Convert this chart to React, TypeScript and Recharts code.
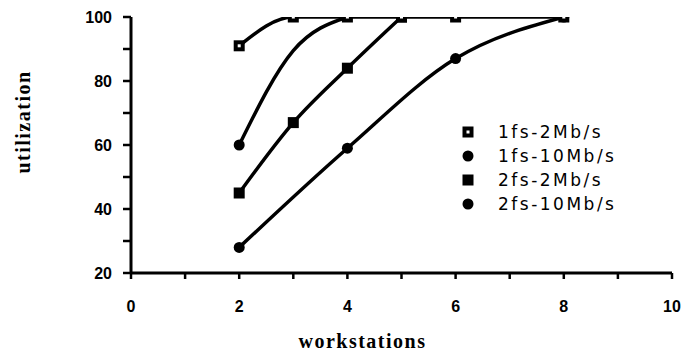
import { LineChart, Line, XAxis, YAxis, Legend, Label } from 'recharts'

// workstation counts on the x axis, utilization (%) on the y axis
const xTicks = [0, 1, 2, 3, 4, 5, 6, 7, 8, 9, 10]
const yTicks = [20, 30, 40, 50, 60, 70, 80, 90, 100]

const fs1Mb2X = [2, 3, 4, 5, 6, 8]
const fs1Mb2Y = [91, 100, 100, 100, 100, 100]
const fs1Mb10X = [2, 3, 4]
const fs1Mb10Y = [60, 89.5, 100]
const fs1Mb10Marks = [2]
const fs2Mb2X = [2, 3, 4, 5]
const fs2Mb2Y = [45, 67, 84, 100]
const fs2Mb10X = [2, 4, 6, 8]
const fs2Mb10Y = [28, 59, 87, 100]

const seriesNames = ['1fs-2Mb/s', '1fs-10Mb/s', '2fs-2Mb/s', '2fs-10Mb/s']

type Shape = 'sqDot' | 'circle' | 'square'
const legendShapes: Shape[] = ['sqDot', 'circle', 'square', 'circle']

const toPoints = (xs: number[], ys: number[]) => xs.map((x, i) => ({ x, y: ys[i] }))

function marker(shape: Shape, cx: number, cy: number, key?: string) {
  if (shape === 'circle') return <circle key={key} cx={cx} cy={cy} r={5.5} fill="#000" />
  if (shape === 'square') return <rect key={key} x={cx - 5.5} y={cy - 5.5} width={11} height={11} fill="#000" />
  return (
    <g key={key}>
      <rect x={cx - 5.5} y={cy - 5.5} width={11} height={11} fill="#000" />
      <rect x={cx - 1.5} y={cy - 1.5} width={3} height={3} fill="#fff" />
    </g>
  )
}

const makeDot = (shape: Shape, marks?: number[]) => (p: any) => {
  const key = `dot-${shape}-${p.index}`
  if (marks && !marks.includes(p.payload.x)) return <g key={key} />
  return marker(shape, p.cx, p.cy, key)
}

const tickStyle = { fontSize: 16, fontWeight: 700, fill: '#000', fontFamily: 'Liberation Sans, Arial, sans-serif' }
const labelFont = { fontSize: 20, fontWeight: 700, fontFamily: 'Liberation Serif, Times New Roman, serif', letterSpacing: 1.5 }

function LegendBox() {
  return (
    <div style={{ fontFamily: 'DejaVu Sans, sans-serif', fontSize: 17, letterSpacing: 2.5, color: '#000' }}>
      {seriesNames.map((name, i) => (
        <div key={name} style={{ display: 'flex', alignItems: 'center', height: 24, lineHeight: '24px' }}>
          <svg width={12} height={12} style={{ marginRight: 24 }}>
            {marker(legendShapes[i], 6, 6)}
          </svg>
          <span>{name}</span>
        </div>
      ))}
    </div>
  )
}

export default function App() {
  return (
    <div style={{ position: 'absolute', left: 0, top: 0, background: '#fff' }}>
      <LineChart width={683} height={356} margin={{ top: 17, right: 11, left: 71, bottom: 0 }}>
        <XAxis
          type="number"
          dataKey="x"
          domain={[0, 10]}
          ticks={xTicks}
          interval={0}
          height={83}
          tickSize={6}
          tickMargin={22}
          tick={tickStyle}
          tickFormatter={(v) => (v % 2 === 0 ? String(v) : '')}
          axisLine={{ stroke: '#000', strokeWidth: 3 }}
          tickLine={{ stroke: '#000', strokeWidth: 2.5 }}
          allowDataOverflow
        >
          <Label
            content={({ viewBox }: any) => (
              <text x={viewBox.x + viewBox.width / 2 - 39} y={viewBox.y + 75} textAnchor="middle" {...labelFont}>
                workstations
              </text>
            )}
          />
        </XAxis>
        <YAxis
          type="number"
          domain={[20, 100]}
          ticks={yTicks}
          interval={0}
          width={60}
          tickSize={8}
          tickMargin={11}
          tick={tickStyle}
          tickFormatter={(v) => (v % 20 === 0 ? String(v) : '')}
          axisLine={{ stroke: '#000', strokeWidth: 3 }}
          tickLine={{ stroke: '#000', strokeWidth: 2.5 }}
          allowDataOverflow
        >
          <Label
            content={({ viewBox }: any) => {
              const x = viewBox.x - 48
              const y = viewBox.y + viewBox.height / 2 - 23
              return (
                <text x={x} y={y} transform={`rotate(-90 ${x} ${y})`} textAnchor="middle" dominantBaseline="central" {...labelFont}>
                  utilization
                </text>
              )
            }}
          />
        </YAxis>
        <Legend
          layout="vertical"
          align="center"
          verticalAlign="middle"
          content={() => <LegendBox />}
          wrapperStyle={{ left: 462, top: 120, width: 200 }}
        />
        <Line data={toPoints(fs2Mb10X, fs2Mb10Y)} dataKey="y" name={seriesNames[3]} type="monotone" stroke="#000" strokeWidth={3.5} dot={makeDot('circle')} isAnimationActive={false} />
        <Line data={toPoints(fs2Mb2X, fs2Mb2Y)} dataKey="y" name={seriesNames[2]} type="monotone" stroke="#000" strokeWidth={3.5} dot={makeDot('square')} isAnimationActive={false} />
        <Line data={toPoints(fs1Mb10X, fs1Mb10Y)} dataKey="y" name={seriesNames[1]} type="monotone" stroke="#000" strokeWidth={3.5} dot={makeDot('circle', fs1Mb10Marks)} isAnimationActive={false} />
        <Line data={toPoints(fs1Mb2X, fs1Mb2Y)} dataKey="y" name={seriesNames[0]} type="monotone" stroke="#000" strokeWidth={3.5} dot={makeDot('sqDot')} isAnimationActive={false} />
      </LineChart>
    </div>
  )
}
